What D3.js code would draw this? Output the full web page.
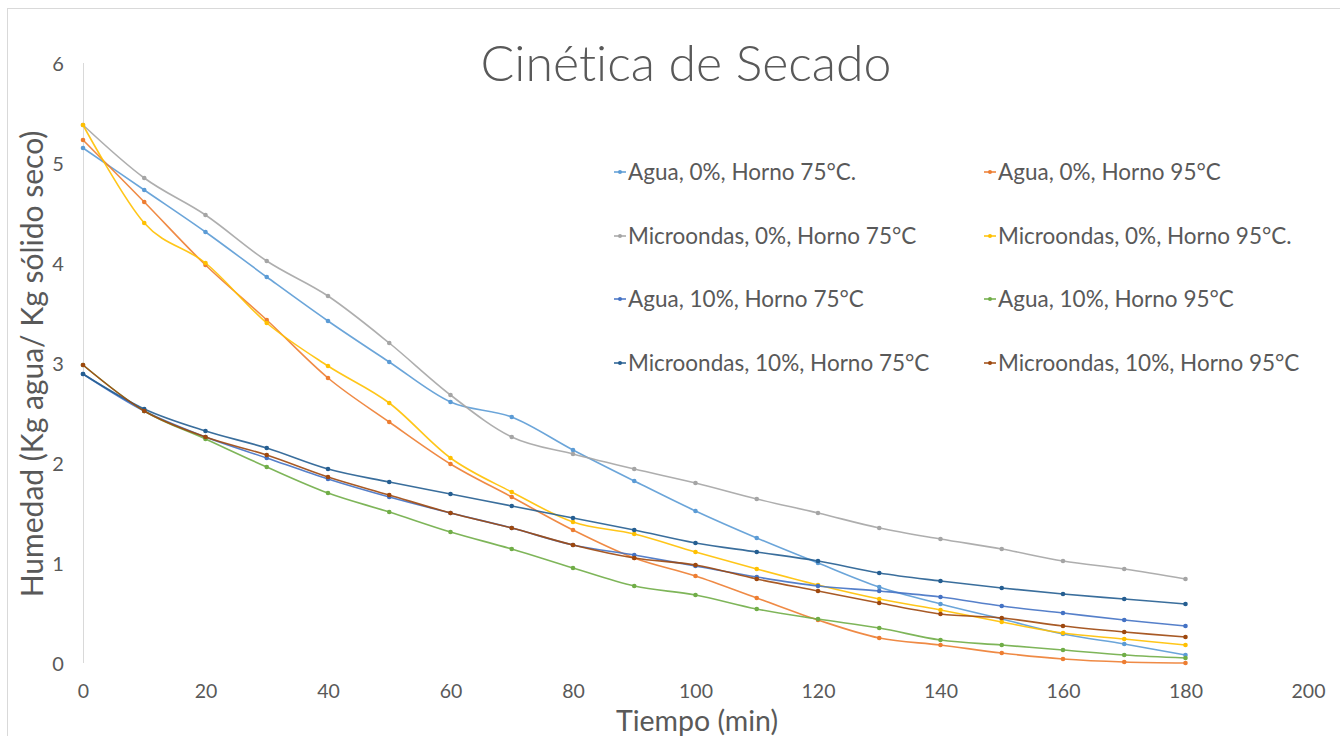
<!DOCTYPE html>
<html>
<head>
<meta charset="utf-8">
<script src="https://cdn.jsdelivr.net/npm/d3@7"></script>
<style>
  html, body { margin: 0; padding: 0; background: #ffffff; }
  svg { display: block; }
  text { font-family: Lato, "Open Sans", sans-serif; fill: #595959; font-variant-ligatures: none; }
</style>
</head>
<body>
<svg id="chart" width="1340" height="736"></svg>
<script>
// Drying time (min)
const tiempo = [0, 10, 20, 30, 40, 50, 60, 70, 80, 90, 100, 110, 120, 130, 140, 150, 160, 170, 180];

// Moisture (kg water / kg dry solid) per treatment
const agua0_75 = [5.15, 4.73, 4.31, 3.86, 3.42, 3.01, 2.61, 2.46, 2.13, 1.82, 1.52, 1.25, 1.00, 0.76, 0.59, 0.44, 0.29, 0.19, 0.08];
const agua0_95 = [5.23, 4.61, 3.98, 3.43, 2.85, 2.41, 1.99, 1.66, 1.33, 1.05, 0.87, 0.65, 0.43, 0.25, 0.18, 0.10, 0.04, 0.01, 0.00];
const micro0_75 = [5.38, 4.85, 4.48, 4.02, 3.67, 3.20, 2.68, 2.26, 2.09, 1.94, 1.80, 1.64, 1.50, 1.35, 1.24, 1.14, 1.02, 0.94, 0.84];
const micro0_95 = [5.38, 4.40, 4.00, 3.40, 2.97, 2.60, 2.05, 1.71, 1.41, 1.29, 1.11, 0.94, 0.78, 0.64, 0.53, 0.41, 0.30, 0.24, 0.18];
const agua10_75 = [2.89, 2.52, 2.26, 2.05, 1.84, 1.66, 1.50, 1.35, 1.18, 1.08, 0.97, 0.86, 0.77, 0.72, 0.66, 0.57, 0.50, 0.43, 0.37];
const agua10_95 = [2.98, 2.52, 2.24, 1.96, 1.70, 1.51, 1.31, 1.14, 0.95, 0.77, 0.68, 0.54, 0.44, 0.35, 0.23, 0.18, 0.13, 0.08, 0.05];
const micro10_75 = [2.89, 2.54, 2.32, 2.15, 1.94, 1.81, 1.69, 1.57, 1.45, 1.33, 1.20, 1.11, 1.02, 0.90, 0.82, 0.75, 0.69, 0.64, 0.59];
const micro10_95 = [2.98, 2.52, 2.26, 2.08, 1.86, 1.68, 1.50, 1.35, 1.18, 1.05, 0.98, 0.84, 0.72, 0.60, 0.49, 0.45, 0.37, 0.31, 0.26];

const seriesNames = [
  "Agua, 0%, Horno 75°C.", "Agua, 0%, Horno 95°C",
  "Microondas, 0%, Horno 75°C", "Microondas, 0%, Horno 95°C.",
  "Agua, 10%, Horno 75°C", "Agua, 10%, Horno 95°C",
  "Microondas, 10%, Horno 75°C", "Microondas, 10%, Horno 95°C"
];
const seriesValues = [agua0_75, agua0_95, micro0_75, micro0_95, agua10_75, agua10_95, micro10_75, micro10_95];
const seriesColors = ["#5B9BD5", "#ED7D31", "#A5A5A5", "#FFC000", "#4472C4", "#70AD47", "#255E91", "#9E480E"];

const xTicks = [0, 20, 40, 60, 80, 100, 120, 140, 160, 180, 200];
const yTicks = [0, 1, 2, 3, 4, 5, 6];

const svg = d3.select("#chart");

// chart frame edges
svg.append("line").attr("x1", 8).attr("y1", 8.5).attr("x2", 1340).attr("y2", 8.5)
  .attr("stroke", "#D9D9D9").attr("stroke-width", 1);
svg.append("line").attr("x1", 7.5).attr("y1", 8).attr("x2", 7.5).attr("y2", 736)
  .attr("stroke", "#D9D9D9").attr("stroke-width", 1);

const x = d3.scaleLinear().domain([0, 200]).range([83, 1308]);
const y = d3.scaleLinear().domain([0, 6]).range([663, 63]);

// vertical axis line
svg.append("line").attr("x1", x(0) + 0.5).attr("x2", x(0) + 0.5)
  .attr("y1", y(6)).attr("y2", y(0))
  .attr("stroke", "#D9D9D9").attr("stroke-width", 1);

// y tick labels
const yAxis = d3.axisLeft(y).tickValues(yTicks).tickSize(0).tickPadding(0).tickFormat(d3.format("d"));
const gy = svg.append("g").attr("transform", `translate(${x(0) - 25},0)`).call(yAxis);
gy.select(".domain").remove();
gy.selectAll("text").attr("font-size", 20).attr("fill", "#595959")
  .attr("font-family", "Lato, sans-serif").attr("text-anchor", "middle").attr("dy", "0.35em");

// x tick labels
const xAxis = d3.axisBottom(x).tickValues(xTicks).tickSize(0).tickPadding(0).tickFormat(d3.format("d"));
const gx = svg.append("g").attr("transform", `translate(0,${y(0) + 28})`).call(xAxis);
gx.select(".domain").remove();
gx.selectAll("text").attr("font-size", 19.5).attr("fill", "#595959")
  .attr("font-family", "Lato, sans-serif").attr("dy", "0.35em").attr("y", 0);

// title
svg.append("text").attr("x", 686).attr("y", 81).attr("text-anchor", "middle")
  .attr("font-size", 50).attr("font-weight", 300).text("Cinética de Secado");

// axis titles
svg.append("text").attr("x", 697).attr("y", 731).attr("text-anchor", "middle")
  .attr("font-size", 28.5).text("Tiempo (min)");
svg.append("text").attr("transform", "translate(43,364) rotate(-90)").attr("text-anchor", "middle")
  .attr("font-size", 30).text("Humedad (Kg agua/ Kg sólido seco)");

// series lines and markers
const line = d3.line()
  .x((d, i) => x(tiempo[i]))
  .y(d => y(d))
  .curve(d3.curveCardinal.tension(0));

seriesValues.forEach((vals, k) => {
  const g = svg.append("g");
  g.append("path").datum(vals).attr("d", line)
    .attr("fill", "none").attr("stroke", seriesColors[k])
    .attr("stroke-width", 1.6).attr("stroke-opacity", 0.9);
  g.selectAll("circle").data(vals).join("circle")
    .attr("cx", (d, i) => x(tiempo[i])).attr("cy", d => y(d))
    .attr("r", 2.3).attr("fill", seriesColors[k]);
});

// legend (two columns, four rows)
const legendCols = [614, 984];
const legendRows = [172, 236, 299, 363];
seriesNames.forEach((name, k) => {
  const lx = legendCols[k % 2];
  const ly = legendRows[Math.floor(k / 2)];
  const g = svg.append("g").attr("transform", `translate(${lx},${ly})`);
  g.append("line").attr("x1", 0).attr("x2", 12).attr("y1", 0).attr("y2", 0)
    .attr("stroke", seriesColors[k]).attr("stroke-width", 1.5);
  g.append("circle").attr("cx", 6).attr("cy", 0).attr("r", 2).attr("fill", seriesColors[k]);
  g.append("text").attr("x", 14).attr("y", 0).attr("dy", "0.35em")
    .attr("font-size", 22.5).text(name);
});
</script>
</body>
</html>
